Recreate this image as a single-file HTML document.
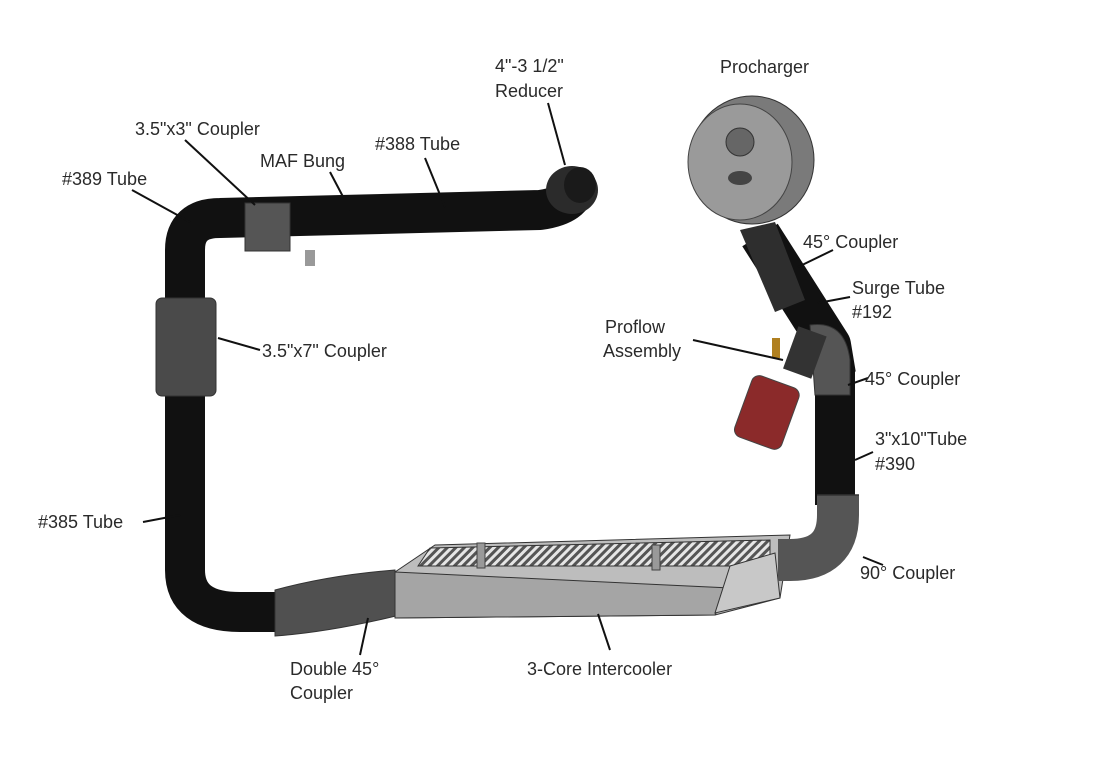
<!DOCTYPE html>
<html><head><meta charset="utf-8"><style>
html,body{margin:0;padding:0;background:#fff;}
svg{display:block;}
text{font-family:"Liberation Sans",sans-serif;font-size:18px;fill:#2a2a2a;}
</style></head><body>
<svg width="1115" height="768" viewBox="0 0 1115 768" xmlns="http://www.w3.org/2000/svg">
<defs>
<pattern id="hatch" width="6" height="6" patternUnits="userSpaceOnUse" patternTransform="rotate(45)">
<rect width="6" height="6" fill="#e6e6e6"/><rect width="3" height="6" fill="#555"/></pattern>
</defs>
<!-- top tube -->
<path d="M185,300 L185,250 Q185,218 220,218 L540,210 Q575,205 575,185" fill="none" stroke="#111" stroke-width="40" stroke-linejoin="round"/>
<ellipse cx="572" cy="190" rx="26" ry="24" fill="#2b2b2b"/>
<ellipse cx="580" cy="185" rx="16" ry="18" fill="#1a1a1a"/>
<rect x="245" y="203" width="45" height="48" fill="#555" stroke="#333"/>
<rect x="305" y="250" width="10" height="16" fill="#999"/>
<!-- left vertical tube -->
<path d="M185,290 L185,570 Q185,612 240,612 L290,612" fill="none" stroke="#111" stroke-width="40"/>
<rect x="156" y="298" width="60" height="98" rx="6" fill="#4a4a4a" stroke="#333"/>
<path d="M275,590 Q330,575 395,570 L400,615 Q330,632 275,636 Z" fill="#505050" stroke="#333"/>
<!-- intercooler -->
<polygon points="395,572 435,545 790,535 780,598 715,615 395,618" fill="#bdbdbd" stroke="#333"/>
<polygon points="395,572 730,588 715,615 395,618" fill="#a5a5a5" stroke="#333"/>
<polygon points="418,566 430,548 770,540 770,560 730,566" fill="url(#hatch)" stroke="#333"/>
<polygon points="730,566 775,553 780,598 715,613" fill="#c8c8c8" stroke="#333"/>
<rect x="477" y="543" width="8" height="25" fill="#999" stroke="#444"/>
<rect x="652" y="545" width="8" height="25" fill="#999" stroke="#444"/>
<!-- right vertical tube + 90 coupler -->
<path d="M835,370 L835,505" fill="none" stroke="#111" stroke-width="40"/>
<path d="M838,495 L838,515 Q838,560 790,560 L778,560" fill="none" stroke="#555" stroke-width="42"/>
<path d="M817,495 L859,495" stroke="#333" stroke-width="1.5"/>
<!-- surge tube up to procharger -->
<path d="M760,235 L830,345 L835,375" fill="none" stroke="#111" stroke-width="42" stroke-linejoin="round"/>
<path d="M740,230 L775,222 L805,300 L775,312 Z" fill="#2e2e2e"/>
<path d="M810,325 Q845,320 850,360 L850,395 L815,395 Z" fill="#555" stroke="#333"/>
<rect x="790" y="330" width="30" height="45" fill="#333" transform="rotate(20 805 352)"/>
<rect x="772" y="338" width="8" height="20" fill="#b08020"/>
<rect x="742" y="380" width="50" height="65" rx="8" fill="#8b2a2a" stroke="#444" transform="rotate(20 767 412)"/>
<!-- procharger -->
<ellipse cx="752" cy="160" rx="62" ry="64" fill="#7a7a7a" stroke="#333"/>
<ellipse cx="740" cy="162" rx="52" ry="58" fill="#9a9a9a" stroke="#444"/>
<circle cx="740" cy="142" r="14" fill="#666" stroke="#333"/>
<ellipse cx="740" cy="178" rx="12" ry="7" fill="#444"/>
<!-- leader lines -->
<g stroke="#111" stroke-width="2" fill="none">
<line x1="548" y1="103" x2="565" y2="165"/>
<line x1="185" y1="140" x2="255" y2="205"/>
<line x1="132" y1="190" x2="190" y2="222"/>
<line x1="330" y1="172" x2="350" y2="210"/>
<line x1="425" y1="158" x2="445" y2="207"/>
<line x1="218" y1="338" x2="260" y2="350"/>
<line x1="143" y1="522" x2="180" y2="515"/>
<line x1="360" y1="655" x2="368" y2="618"/>
<line x1="598" y1="614" x2="610" y2="650"/>
<line x1="863" y1="557" x2="883" y2="565"/>
<line x1="798" y1="267" x2="833" y2="250"/>
<line x1="818" y1="303" x2="850" y2="297"/>
<line x1="693" y1="340" x2="783" y2="360"/>
<line x1="848" y1="385" x2="868" y2="378"/>
<line x1="855" y1="460" x2="873" y2="452"/>
</g>
<text x="495" y="72">4"-3 1/2"</text>
<text x="495" y="97">Reducer</text>
<text x="720" y="73">Procharger</text>
<text x="135" y="135">3.5"x3" Coupler</text>
<text x="375" y="150">#388 Tube</text>
<text x="260" y="167">MAF Bung</text>
<text x="62" y="185">#389 Tube</text>
<text x="803" y="248">45° Coupler</text>
<text x="852" y="294">Surge Tube</text>
<text x="852" y="318">#192</text>
<text x="605" y="333">Proflow</text>
<text x="603" y="357">Assembly</text>
<text x="262" y="357">3.5"x7" Coupler</text>
<text x="865" y="385">45° Coupler</text>
<text x="875" y="445">3"x10"Tube</text>
<text x="875" y="470">#390</text>
<text x="38" y="528">#385 Tube</text>
<text x="860" y="579">90° Coupler</text>
<text x="290" y="675">Double 45°</text>
<text x="290" y="699">Coupler</text>
<text x="527" y="675">3-Core Intercooler</text>
</svg>
</body></html>
